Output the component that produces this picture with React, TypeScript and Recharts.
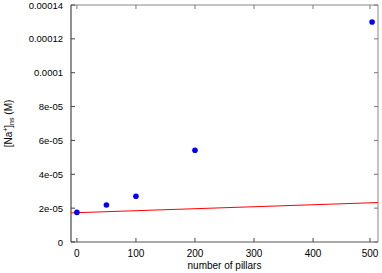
import React from "react";
import {
  ComposedChart,
  Scatter,
  XAxis,
  YAxis,
} from "recharts";

// measured points
const pillars = [0, 50, 100, 200, 500];
const naConc = [0.0000175, 0.0000219, 0.000027, 0.0000542, 0.00013];

// red reference line (endpoints)
const lineX = [-10, 510];
const lineY = [0.0000172, 0.0000233];

const xTicks = [0, 100, 200, 300, 400, 500];
const yTicks = [0, 0.00002, 0.00004, 0.00006, 0.00008, 0.0001, 0.00012, 0.00014];
const yTickLabels = ["0", "2e-05", "4e-05", "6e-05", "8e-05", "0.0001", "0.00012", "0.00014"];

const points = pillars.map((x, i) => ({ x, y: naConc[i] }));
const fitLine = lineX.map((x, i) => ({ x, y: lineY[i] }));

const FONT = "Liberation Sans, Arial, sans-serif";
const TICK_LEN = 4;

const BottomTick = (props: any) => {
  const { x, y, payload } = props;
  return (
    <g>
      <line x1={x} y1={y} x2={x} y2={y - TICK_LEN} stroke="#444" strokeWidth={1} />
      <text x={x} y={y + 15} textAnchor="middle" fontSize={10} fontFamily={FONT} fill="#000">
        {payload.value}
      </text>
    </g>
  );
};

const TopTick = (props: any) => {
  const { x, y } = props;
  return <line x1={x} y1={y} x2={x} y2={y + TICK_LEN} stroke="#777" strokeWidth={1} />;
};

const LeftTick = (props: any) => {
  const { x, y, index } = props;
  return (
    <g>
      <line x1={x} y1={y} x2={x + TICK_LEN} y2={y} stroke="#444" strokeWidth={1} />
      <text x={x - 8} y={y + 3.5} textAnchor="end" fontSize={9.5} fontFamily={FONT} fill="#000">
        {yTickLabels[index]}
      </text>
    </g>
  );
};

const RightTick = (props: any) => {
  const { x, y } = props;
  return <line x1={x} y1={y} x2={x - TICK_LEN} y2={y} stroke="#777" strokeWidth={1} />;
};

const YLabel = (props: any) => {
  const vb = props.viewBox;
  const cy = vb.y + vb.height / 2;
  const cx = 12;
  return (
    <text
      x={cx}
      y={cy}
      transform={`rotate(-90 ${cx} ${cy})`}
      textAnchor="middle"
      fontSize={10}
      fontFamily={FONT}
      fill="#000"
    >
      [Na
      <tspan dy={-4} fontSize={7}>+</tspan>
      <tspan dy={4}>]</tspan>
      <tspan dy={2} fontSize={7}>ns</tspan>
      <tspan dy={-2}> (M)</tspan>
    </text>
  );
};

const XLabel = (props: any) => {
  const vb = props.viewBox;
  return (
    <text
      x={vb.x + vb.width / 2}
      y={269}
      textAnchor="middle"
      fontSize={10}
      fontFamily={FONT}
      fill="#000"
    >
      number of pillars
    </text>
  );
};

const Empty = () => <g />;

export default function App() {
  return (
    <div style={{ position: "absolute", left: 0, top: 0, background: "#fff" }}>
      <ComposedChart
        width={382}
        height={273}
        margin={{ top: 4, right: 3, left: 0, bottom: 0 }}
      >
        <XAxis
          xAxisId="b"
          type="number"
          dataKey="x"
          domain={[-10, 510]}
          ticks={xTicks}
          height={31}
          tickSize={0}
          tickMargin={0}
          tickLine={false}
          axisLine={{ stroke: "#555" }}
          tick={<BottomTick />}
          label={<XLabel />}
          allowDataOverflow
        />
        <XAxis
          xAxisId="t"
          orientation="top"
          type="number"
          dataKey="x"
          domain={[-10, 510]}
          ticks={xTicks}
          height={1}
          tickSize={0}
          tickMargin={0}
          tickLine={false}
          axisLine={{ stroke: "#888" }}
          tick={<TopTick />}
          allowDataOverflow
        />
        <YAxis
          yAxisId="l"
          type="number"
          dataKey="y"
          domain={[0, 0.00014]}
          ticks={yTicks}
          width={71}
          tickSize={0}
          tickMargin={0}
          tickLine={false}
          axisLine={{ stroke: "#222" }}
          tick={<LeftTick />}
          label={<YLabel />}
          interval={0}
          allowDataOverflow
        />
        <YAxis
          yAxisId="r"
          orientation="right"
          type="number"
          dataKey="y"
          domain={[0, 0.00014]}
          ticks={yTicks}
          width={1}
          tickSize={0}
          tickMargin={0}
          tickLine={false}
          axisLine={{ stroke: "#888" }}
          tick={<RightTick />}
          interval={0}
          allowDataOverflow
        />
        <Scatter
          xAxisId="t"
          yAxisId="r"
          data={points}
          shape={Empty}
          isAnimationActive={false}
        />
        <Scatter
          xAxisId="b"
          yAxisId="l"
          data={fitLine}
          line={{ stroke: "#ff0000", strokeWidth: 1 }}
          shape={Empty}
          isAnimationActive={false}
        />
        <Scatter
          xAxisId="b"
          yAxisId="l"
          data={points}
          fill="#0000ff"
          shape={(p: any) => <circle cx={p.cx} cy={p.cy} r={2.8} fill="#0000ff" />}
          isAnimationActive={false}
        />
      </ComposedChart>
    </div>
  );
}
